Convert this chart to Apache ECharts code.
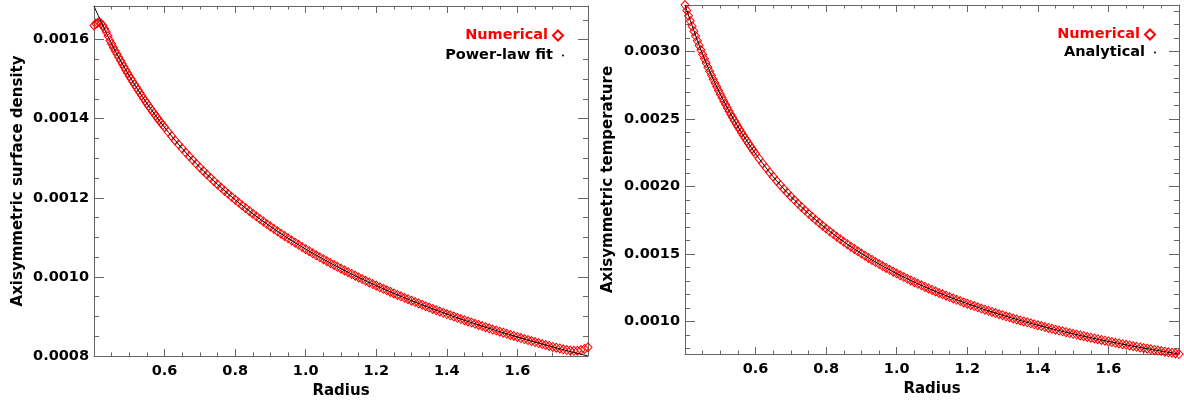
<!DOCTYPE html>
<html><head><meta charset="utf-8">
<script src="https://cdn.jsdelivr.net/npm/echarts@6/dist/echarts.min.js"></script>
<style>html,body{margin:0;padding:0;background:#fff}#c{width:1184px;height:400px}</style>
</head><body><div id="c"></div>
<script>
// ---- data ----
const radiusFine = [0.400,0.405,0.410,0.415,0.420,0.425,0.430,0.435,0.440,0.445,0.450,0.455,0.460,0.465,0.470,0.475,0.480,0.485,0.490,0.495,0.500,0.505,0.510,0.515,0.520,0.525,0.530,0.535,0.540,0.545,0.550,0.555,0.560,0.565,0.570,0.575,0.580,0.585,0.590,0.595,0.600,
0.61,0.62,0.63,0.64,0.65,0.66,0.67,0.68,0.69,0.70,0.71,0.72,0.73,0.74,0.75,0.76,0.77,0.78,0.79,0.80,
0.81,0.82,0.83,0.84,0.85,0.86,0.87,0.88,0.89,0.90,0.91,0.92,0.93,0.94,0.95,0.96,0.97,0.98,0.99,1.00,
1.01,1.02,1.03,1.04,1.05,1.06,1.07,1.08,1.09,1.10,1.11,1.12,1.13,1.14,1.15,1.16,1.17,1.18,1.19,1.20,
1.21,1.22,1.23,1.24,1.25,1.26,1.27,1.28,1.29,1.30,1.31,1.32,1.33,1.34,1.35,1.36,1.37,1.38,1.39,1.40,
1.41,1.42,1.43,1.44,1.45,1.46,1.47,1.48,1.49,1.50,1.51,1.52,1.53,1.54,1.55,1.56,1.57,1.58,1.59,1.60,
1.61,1.62,1.63,1.64,1.65,1.66,1.67,1.68,1.69,1.70,1.71,1.72,1.73,1.74,1.75,1.76,1.77,1.78,1.79,1.80];
const radiusCoarse = [0.40,0.45,0.50,0.55,0.60,0.65,0.70,0.75,0.80,0.85,0.90,0.95,1.00,1.05,1.10,1.15,1.20,1.25,1.30,1.35,1.40,1.45,1.50,1.55,1.60,1.65,1.70,1.75,1.80];

const densityNumerical = [0.001636,0.001640,0.001642,0.001644,0.001641,0.001636,0.001628,0.001619,0.001609,0.001598,0.001589,0.0015803,0.0015718,0.0015634,0.0015552,0.0015470,0.0015390,0.0015312,0.0015234,0.0015158,0.0015082,0.0015008,0.0014935,0.0014863,0.0014793,0.0014723,0.0014654,0.0014586,0.0014519,0.0014453,0.0014387,0.0014323,0.0014260,0.0014197,0.0014135,0.0014074,0.0014014,0.0013955,0.0013896,0.0013838,0.0013781,
0.0013668,0.0013559,0.0013452,0.0013347,0.0013245,0.0013145,0.0013048,0.0012953,0.0012859,0.0012768,0.0012679,0.0012591,0.0012506,0.0012421,0.0012339,0.0012259,0.0012179,0.0012102,0.0012026,0.0011951,
0.0011879,0.0011807,0.0011736,0.0011667,0.0011599,0.0011531,0.0011466,0.0011401,0.0011337,0.0011275,0.0011213,0.0011153,0.0011093,0.0011035,0.0010977,0.0010920,0.0010865,0.0010810,0.0010755,0.0010702,
0.0010649,0.0010598,0.0010547,0.0010496,0.0010447,0.0010398,0.0010350,0.0010302,0.0010255,0.0010209,0.0010163,0.0010118,0.0010074,0.0010030,0.0009987,0.0009944,0.0009902,0.0009860,0.0009819,0.0009779,
0.0009738,0.0009699,0.0009660,0.0009621,0.0009583,0.0009545,0.0009508,0.0009471,0.0009435,0.0009399,0.0009363,0.0009328,0.0009293,0.0009259,0.0009225,0.0009191,0.0009158,0.0009125,0.0009092,0.0009060,
0.0009028,0.0008997,0.0008966,0.0008935,0.0008904,0.0008874,0.0008844,0.0008814,0.0008785,0.0008756,0.0008727,0.0008699,0.0008670,0.0008643,0.0008615,0.0008588,0.0008560,0.0008534,0.0008507,0.0008481,
0.0008454,0.0008429,0.0008403,0.0008378,0.0008352,0.0008327,0.0008303,0.0008278,0.0008254,0.0008230,0.0008211,0.0008190,0.0008170,0.0008150,0.0008138,0.0008130,0.0008135,0.0008150,0.0008180,0.0008220];
const densityFit = [0.0016844,0.0015890,0.0015082,0.0014388,0.0013781,0.0013246,0.0012769,0.0012339,0.0011952,0.0011599,0.0011275,0.0010977,0.0010702,0.0010447,0.0010209,0.0009987,0.0009779,0.0009583,0.0009399,0.0009225,0.0009060,0.0008904,0.0008756,0.0008615,0.0008481,0.0008352,0.0008230,0.0008113,0.0008000];

const tempNumerical = [0.0033460,0.0033053,0.0032655,0.0032267,0.0031888,0.0031519,0.0031157,0.0030804,0.0030459,0.0030121,0.0029791,0.0029468,0.0029153,0.0028844,0.0028541,0.0028245,0.0027955,0.0027670,0.0027392,0.0027119,0.0026852,0.0026590,0.0026333,0.0026080,0.0025833,0.0025591,0.0025352,0.0025119,0.0024890,0.0024664,0.0024443,0.0024226,0.0024013,0.0023803,0.0023597,0.0023395,0.0023196,0.0023001,0.0022808,0.0022620,0.0022434,
0.0022071,0.0021720,0.0021380,0.0021051,0.0020731,0.0020421,0.0020121,0.0019829,0.0019546,0.0019270,0.0019003,0.0018743,0.0018489,0.0018243,0.0018003,0.0017769,0.0017542,0.0017320,0.0017104,0.0016893,
0.0016687,0.0016487,0.0016291,0.0016100,0.0015913,0.0015730,0.0015552,0.0015378,0.0015208,0.0015041,0.0014878,0.0014718,0.0014562,0.0014410,0.0014260,0.0014114,0.0013970,0.0013830,0.0013692,0.0013557,
0.0013424,0.0013295,0.0013167,0.0013043,0.0012920,0.0012800,0.0012682,0.0012566,0.0012452,0.0012341,0.0012231,0.0012123,0.0012018,0.0011914,0.0011812,0.0011711,0.0011613,0.0011515,0.0011420,0.0011326,
0.0011234,0.0011143,0.0011054,0.0010966,0.0010879,0.0010794,0.0010710,0.0010628,0.0010547,0.0010467,0.0010388,0.0010310,0.0010234,0.0010159,0.0010084,0.0010011,0.0009939,0.0009868,0.0009798,0.0009729,
0.0009661,0.0009594,0.0009528,0.0009463,0.0009398,0.0009335,0.0009272,0.0009210,0.0009149,0.0009089,0.0009030,0.0008971,0.0008914,0.0008857,0.0008800,0.0008745,0.0008690,0.0008635,0.0008582,0.0008529,
0.0008477,0.0008425,0.0008374,0.0008324,0.0008274,0.0008225,0.0008176,0.0008128,0.0008081,0.0008034,0.0007988,0.0007942,0.0007897,0.0007852,0.0007808,0.0007764,0.0007721,0.0007678,0.0007636,0.0007594];
const tempAnalytical = [0.0033460,0.0029791,0.0026852,0.0024443,0.0022434,0.0020731,0.0019270,0.0018003,0.0016893,0.0015913,0.0015041,0.0014260,0.0013557,0.0012920,0.0012341,0.0011812,0.0011326,0.0010879,0.0010467,0.0010084,0.0009729,0.0009398,0.0009089,0.0008800,0.0008529,0.0008274,0.0008034,0.0007808,0.0007594];

// tick values
const densityMajorTicks = [0.0008,0.0010,0.0012,0.0014,0.0016];
const densityMinorTicks = [0.00085,0.0009,0.00095,0.00105,0.0011,0.00115,0.00125,0.0013,0.00135,0.00145,0.0015,0.00155,0.00165];
const tempMajorTicks = [0.0010,0.0015,0.0020,0.0025,0.0030];
const tempMinorTicks = [0.0008,0.0009,0.0011,0.0012,0.0013,0.0014,0.0016,0.0017,0.0018,0.0019,0.0021,0.0022,0.0023,0.0024,0.0026,0.0027,0.0028,0.0029,0.0031,0.0032,0.0033];
const densityRange = [0.0008, 0.001685];
const tempRange = [0.0007594, 0.003346];
const radiusRange = [0.4, 1.8];

// ---- styling ----
const AX = '#666';
const FONT = 'DejaVu Sans';
const FS = 14.5;
const txt = (color, size) => ({fontFamily: FONT, fontSize: size || FS, fontWeight: 'bold', color: color || '#000'});
const pairs = (xs, ys) => xs.map((x, i) => [x, ys[i]]);

function xAxes(gridIndex, nameGap) {
  const common = {
    type: 'value', gridIndex, min: radiusRange[0], max: radiusRange[1], interval: 0.2,
    axisLine: {show: true, onZero: false, lineStyle: {color: AX, width: 1}},
    axisTick: {show: true, inside: true, length: 7, lineStyle: {color: AX}},
    minorTick: {show: true, splitNumber: 4, length: 3.5, lineStyle: {color: AX}},
    splitLine: {show: false}, minorSplitLine: {show: false}
  };
  return [
    Object.assign({}, common, {
      position: 'bottom', name: 'Radius', nameLocation: 'middle', nameGap: nameGap,
      nameTextStyle: txt('#000', 15),
      axisLabel: Object.assign({show: true, showMinLabel: false, showMaxLabel: false, margin: 8,
        formatter: v => v.toFixed(1)}, txt())
    }),
    Object.assign({}, common, {position: 'top', axisLabel: {show: false}})
  ];
}

function yAxes(gridIndex, range, majors, minors, name, nameGap) {
  const base = {type: 'value', gridIndex, min: range[0], max: range[1], scale: true,
    splitLine: {show: false}, axisLabel: {show: false}};
  const line = {show: true, onZero: false, lineStyle: {color: AX, width: 1}};
  const tick = (len, vals) => ({show: true, inside: true, length: len, customValues: vals, lineStyle: {color: AX}});
  return [
    Object.assign({}, base, {position: 'left', name, nameLocation: 'middle', nameGap,
      nameTextStyle: txt('#000', 15), axisLine: line, axisTick: tick(10, majors),
      axisLabel: Object.assign({show: true, customValues: majors, margin: 5,
        formatter: v => v.toFixed(4)}, txt())}),
    Object.assign({}, base, {position: 'left', axisLine: {show: false}, axisTick: tick(5, minors)}),
    Object.assign({}, base, {position: 'right', axisLine: line, axisTick: tick(10, majors)}),
    Object.assign({}, base, {position: 'right', axisLine: {show: false}, axisTick: tick(5, minors)})
  ];
}

const diamondStyle = {color: 'rgba(0,0,0,0)', borderColor: '#ff0000', borderWidth: 1, opacity: 1};

function legendItem(name, color, icon, right, top, w, h) {
  return {
    show: true, orient: 'horizontal', align: 'right', right, top, padding: 0,
    itemWidth: w, itemHeight: h, itemGap: 0, selectedMode: false,
    textStyle: txt(color),
    data: [{name, icon, textStyle: txt(color)}]
  };
}

const chart = echarts.init(document.getElementById('c'), null, {renderer: 'canvas'});
chart.setOption({
  animation: false,
  backgroundColor: '#fff',
  grid: [
    {left: 94, top: 6, width: 494, height: 350, containLabel: false, outerBoundsMode: 'none'},
    {left: 685, top: 5, width: 494, height: 349, containLabel: false, outerBoundsMode: 'none'}
  ],
  xAxis: xAxes(0, 26).concat(xAxes(1, 27)),
  yAxis: yAxes(0, densityRange, densityMajorTicks, densityMinorTicks, 'Axisymmetric surface density', 68)
    .concat(yAxes(1, tempRange, tempMajorTicks, tempMinorTicks, 'Axisymmetric temperature', 69)),
  legend: [
    legendItem('Numerical', '#ff0000', 'diamond', 620, 28, 10, 10),
    legendItem('Power-law fit', '#000', 'circle', 620, 48, 10, 2),
    legendItem('Numerical', '#ff0000', 'diamond', 28, 27, 10, 10),
    legendItem('Analytical', '#000', 'circle', 28, 45, 10, 2)
  ],
  series: [
    {name: 'Numerical', type: 'scatter', xAxisIndex: 0, yAxisIndex: 0, symbol: 'diamond', symbolSize: [8, 9],
      itemStyle: diamondStyle, data: pairs(radiusFine, densityNumerical), z: 2},
    {name: 'Power-law fit', type: 'line', xAxisIndex: 0, yAxisIndex: 0, showSymbol: false, symbol: 'none', smooth: 0.3,
      lineStyle: {color: '#000', width: 1}, itemStyle: {color: '#000'}, data: pairs(radiusCoarse, densityFit), z: 3},
    {name: 'Numerical', type: 'scatter', xAxisIndex: 2, yAxisIndex: 4, symbol: 'diamond', symbolSize: [8, 9],
      itemStyle: diamondStyle, data: pairs(radiusFine, tempNumerical), z: 2},
    {name: 'Analytical', type: 'line', xAxisIndex: 2, yAxisIndex: 4, showSymbol: false, symbol: 'none', smooth: 0.3,
      lineStyle: {color: '#000', width: 1}, itemStyle: {color: '#000'}, data: pairs(radiusCoarse, tempAnalytical), z: 3}
  ]
});
</script></body></html>
